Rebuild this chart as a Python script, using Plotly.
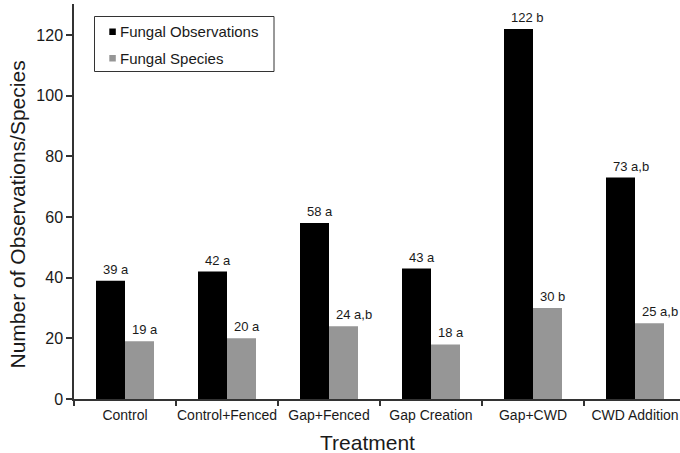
import plotly.graph_objects as go

# Treatments and counts
treatments = ["Control", "Control+Fenced", "Gap+Fenced", "Gap Creation", "Gap+CWD", "CWD Addition"]
observations = [39, 42, 58, 43, 122, 73]
species = [19, 20, 24, 18, 30, 25]
obs_letters = ["a", "a", "a", "a", "b", "a,b"]
sp_letters = ["a", "a", "a,b", "a", "b", "a,b"]
y_ticks = [0, 20, 40, 60, 80, 100, 120]

FONT = "Liberation Sans, Arial, sans-serif"
TXT = "#1a1a1a"
W, H = 680, 453
L, R, T, B = 74, 0, 4, 54
PW, PH = W - L - R, H - T - B


def px(x):
    return (x - L) / PW


def py(y):
    return (H - B - y) / PH


fig = go.Figure()
fig.add_trace(go.Bar(x=treatments, y=observations, name="Fungal Observations",
                     marker=dict(color="#000000", line=dict(width=0)), showlegend=False))
fig.add_trace(go.Bar(x=treatments, y=species, name="Fungal Species",
                     marker=dict(color="#969696", line=dict(width=0)), showlegend=False))

bar_w = 29 / 102  # bar width in category units
annotations = []
for i, (v, s) in enumerate(zip(observations, obs_letters)):
    annotations.append(dict(x=i - bar_w, y=v, xref="x", yref="y", text=f"{v} {s}",
                            showarrow=False, xanchor="left", yanchor="bottom",
                            xshift=5, yshift=2, font=dict(family=FONT, size=13, color=TXT)))
for i, (v, s) in enumerate(zip(species, sp_letters)):
    annotations.append(dict(x=i, y=v, xref="x", yref="y", text=f"{v} {s}",
                            showarrow=False, xanchor="left", yanchor="bottom",
                            xshift=5, yshift=2, font=dict(family=FONT, size=13, color=TXT)))

# axis titles
annotations.append(dict(x=px(17.5), y=py(215), xref="paper", yref="paper",
                        text="Number of Observations/Species", textangle=-90,
                        showarrow=False, xanchor="center", yanchor="middle",
                        font=dict(family=FONT, size=21, color=TXT)))
annotations.append(dict(x=px(367), y=py(443), xref="paper", yref="paper",
                        text="Treatment", showarrow=False, xanchor="center", yanchor="middle",
                        font=dict(family=FONT, size=21, color=TXT)))

# legend
shapes = [
    dict(type="rect", xref="paper", yref="paper", x0=px(94.5), x1=px(274), y0=py(71.5), y1=py(16.5),
         line=dict(color="#333333", width=1), fillcolor="white", layer="above"),
    dict(type="rect", xref="paper", yref="paper", x0=px(109.3), x1=px(115.8), y0=py(35), y1=py(28.5),
         line=dict(width=0), fillcolor="#000000", layer="above"),
    dict(type="rect", xref="paper", yref="paper", x0=px(109.3), x1=px(115.8), y0=py(61.5), y1=py(55),
         line=dict(width=0), fillcolor="#969696", layer="above"),
]
for label, yc in [("Fungal Observations", 31.7), ("Fungal Species", 58.3)]:
    annotations.append(dict(x=px(118), y=py(yc), xref="paper", yref="paper", text=label,
                            showarrow=False, xanchor="left", yanchor="middle",
                            font=dict(family=FONT, size=15, color=TXT)))

fig.update_layout(
    width=W, height=H,
    margin=dict(l=L, r=R, t=T, b=B, pad=0, autoexpand=False),
    paper_bgcolor="white", plot_bgcolor="white",
    barmode="group", bargap=1 - 58 / 102, bargroupgap=0,
    showlegend=False,
    annotations=annotations, shapes=shapes,
    font=dict(family=FONT, color=TXT),
)
fig.update_xaxes(type="category", range=[-0.5, -0.5 + PW / 102], tickson="boundaries",
                 ticks="outside", ticklen=5, tickwidth=1.5, tickcolor="#333333",
                 showline=True, linecolor="#333333", linewidth=1.5, showgrid=False,
                 tickangle=0, automargin=False, ticklabelstandoff=2,
                 tickfont=dict(family=FONT, size=14, color=TXT))
fig.update_yaxes(range=[0, 130.2], tickvals=y_ticks, ticks="outside", ticklen=6,
                 tickwidth=1.5, tickcolor="#333333", showline=True, linecolor="#333333",
                 linewidth=1.5, showgrid=False, zeroline=False, automargin=False,
                 tickfont=dict(family=FONT, size=16, color=TXT))

fig.write_html("out.html")
